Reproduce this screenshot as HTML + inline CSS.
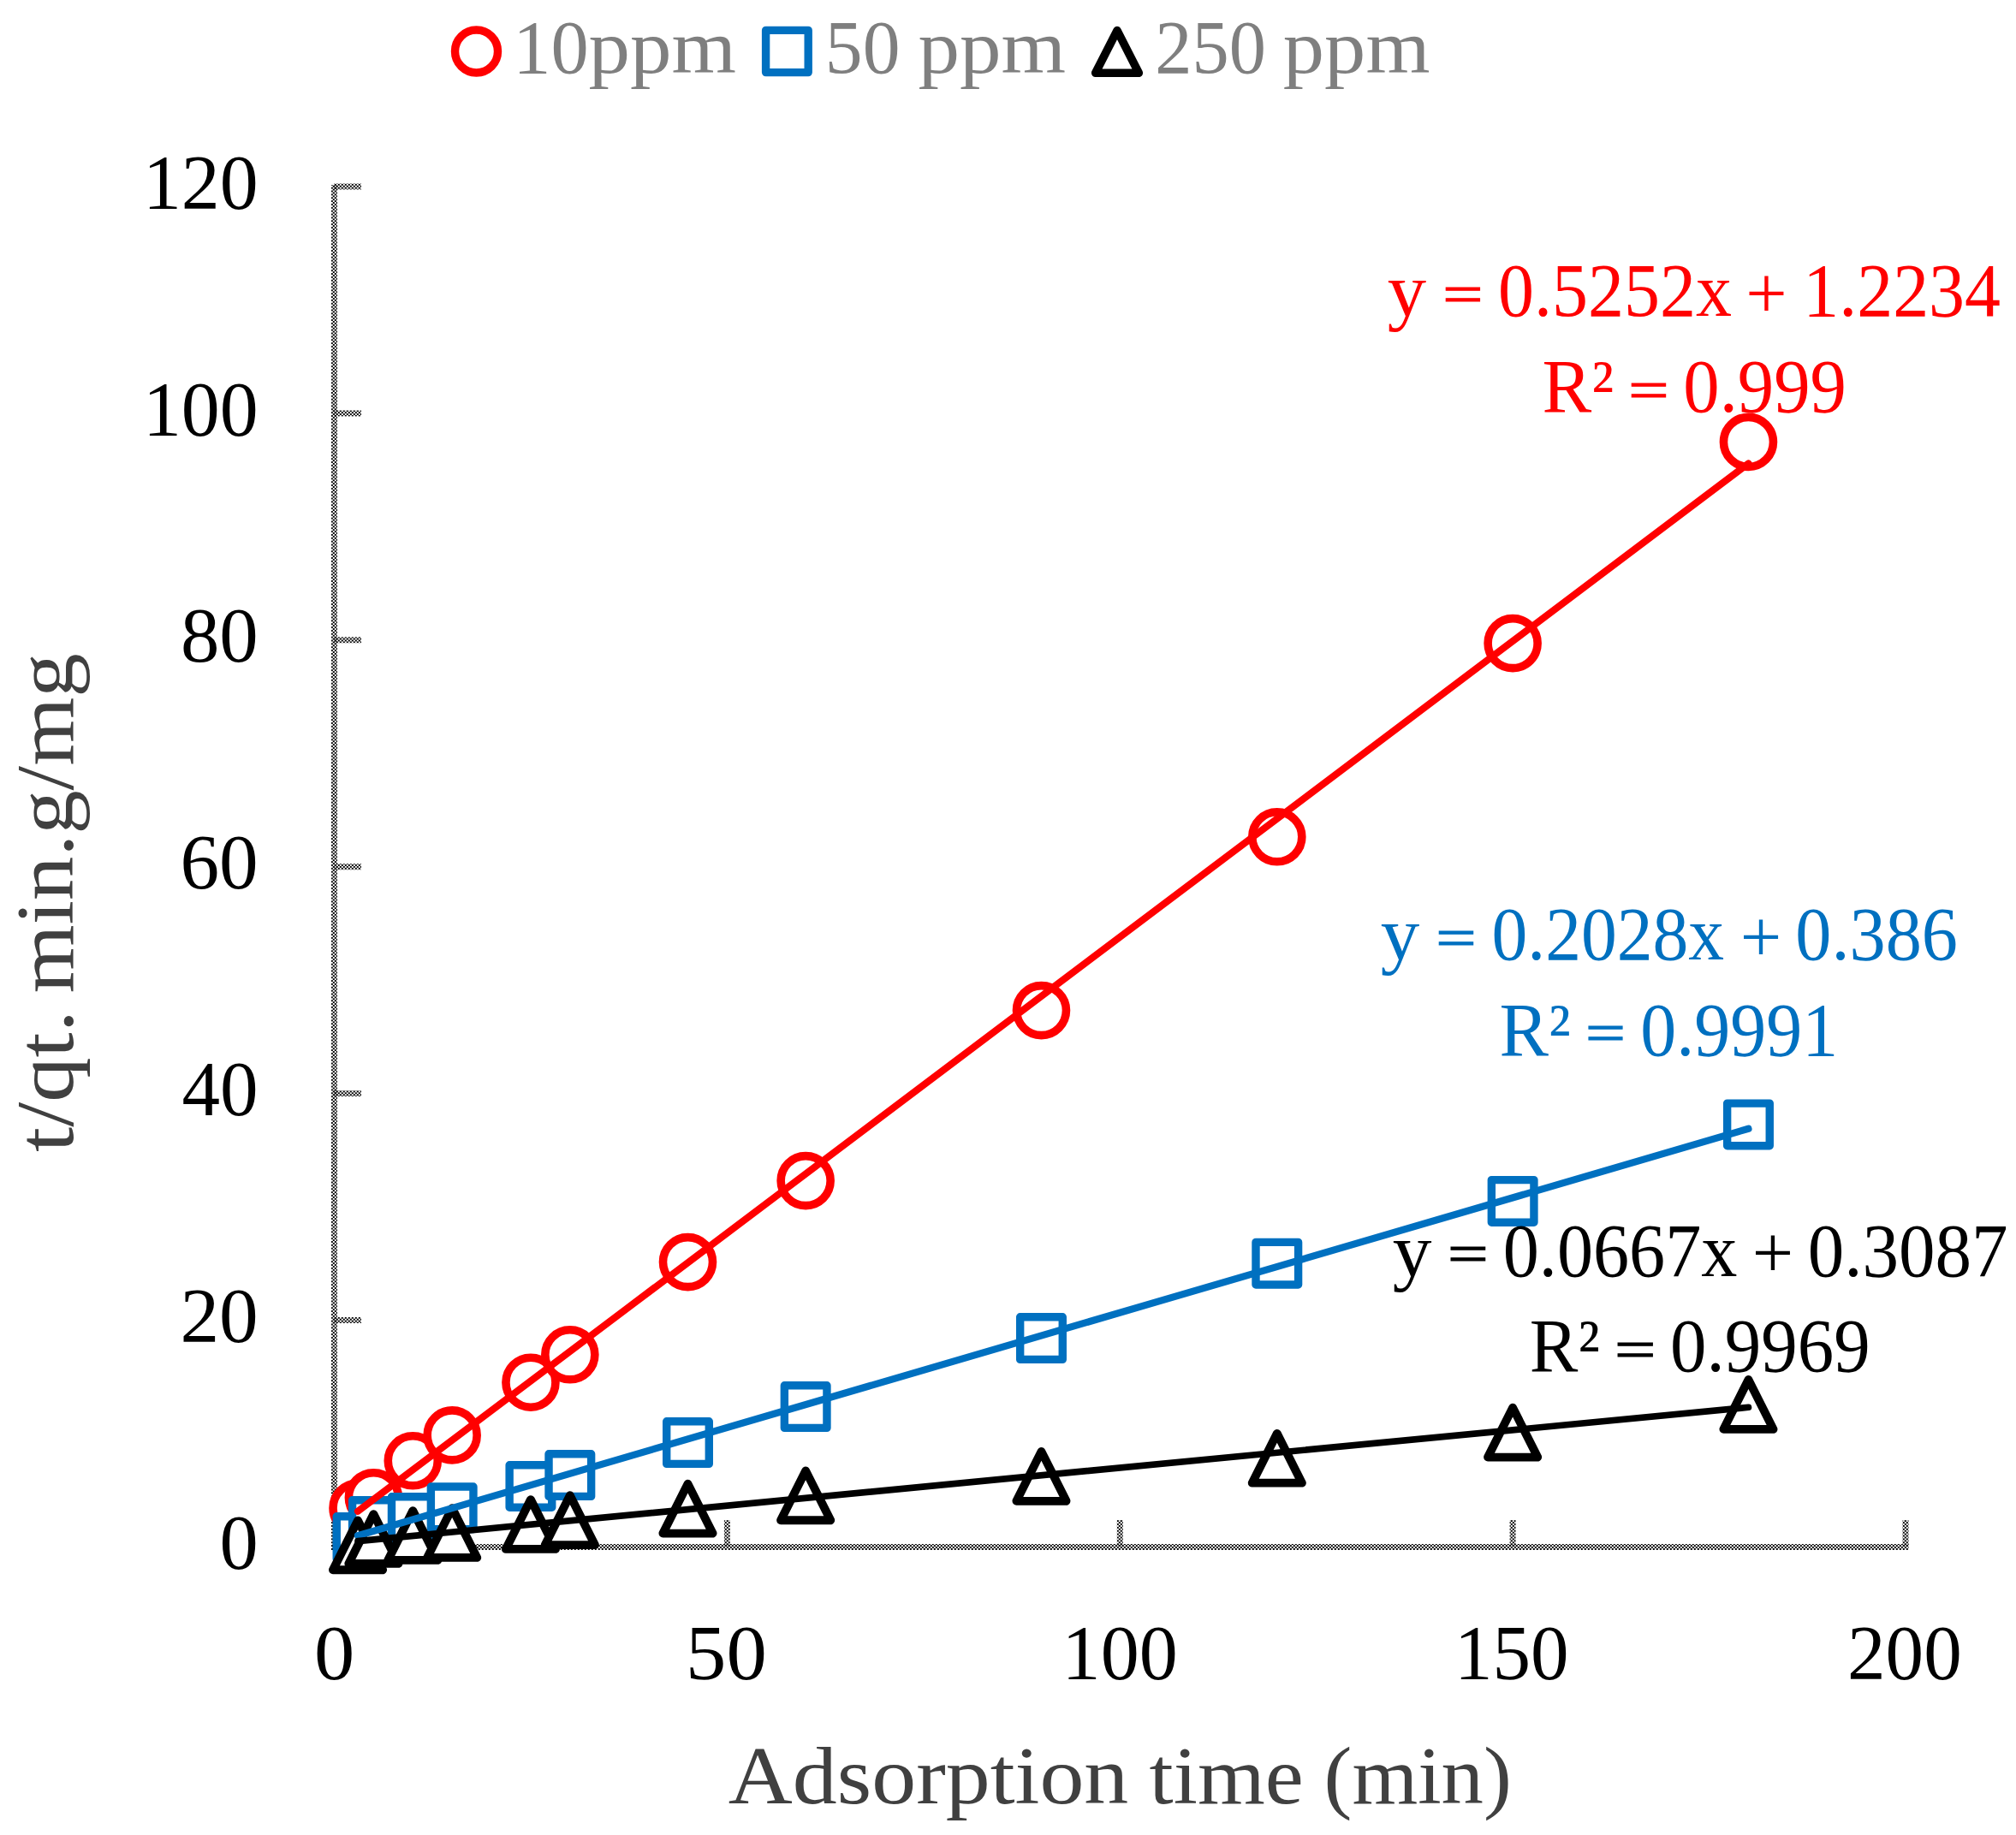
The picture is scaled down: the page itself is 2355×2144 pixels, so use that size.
<!DOCTYPE html>
<html><head><meta charset="utf-8"><title>Pseudo-second-order kinetics</title>
<style>
html,body{margin:0;padding:0;background:#fff;}
svg{display:block;}
text{font-family:"Liberation Serif","DejaVu Serif",serif;}
</style></head>
<body>
<svg width="2355" height="2144" viewBox="0 0 2355 2144">
<defs>
<pattern id="dz" patternUnits="userSpaceOnUse" x="0.8" y="0.6" width="4" height="3.86">
<rect x="0" y="0" width="2" height="1.93" fill="#000"/>
<rect x="2" y="1.93" width="2" height="1.93" fill="#000"/>
</pattern>
</defs>
<rect width="2355" height="2144" fill="#fff"/>
<g fill="url(#dz)">
<rect x="387" y="216" width="7" height="1595"/>
<rect x="387" y="1804" width="1842.5" height="7"/>
<rect x="390" y="1539.0" width="32" height="7"/>
<rect x="390" y="1274.1" width="32" height="7"/>
<rect x="390" y="1009.2" width="32" height="7"/>
<rect x="390" y="744.3" width="32" height="7"/>
<rect x="390" y="479.4" width="32" height="7"/>
<rect x="390" y="214.5" width="32" height="7"/>
<rect x="845.9" y="1776" width="7" height="31"/>
<rect x="1304.8" y="1776" width="7" height="31"/>
<rect x="1763.6" y="1776" width="7" height="31"/>
<rect x="2222.5" y="1776" width="7" height="31"/>
</g>
<text font-size="91.00" fill="#000000"><tspan x="256.51" y="1833.00" textLength="45.18" lengthAdjust="spacingAndGlyphs">0</tspan></text>
<text font-size="91.00" fill="#000000"><tspan x="210.42" y="1568.10" textLength="91.30" lengthAdjust="spacingAndGlyphs">20</tspan></text>
<text font-size="91.00" fill="#000000"><tspan x="212.52" y="1303.20" textLength="89.12" lengthAdjust="spacingAndGlyphs">40</tspan></text>
<text font-size="91.00" fill="#000000"><tspan x="210.42" y="1038.30" textLength="91.30" lengthAdjust="spacingAndGlyphs">60</tspan></text>
<text font-size="91.00" fill="#000000"><tspan x="210.89" y="773.40" textLength="90.81" lengthAdjust="spacingAndGlyphs">80</tspan></text>
<text font-size="91.00" fill="#000000"><tspan x="166.94" y="508.50" textLength="134.73" lengthAdjust="spacingAndGlyphs">100</tspan></text>
<text font-size="91.00" fill="#000000"><tspan x="166.94" y="243.60" textLength="134.73" lengthAdjust="spacingAndGlyphs">120</tspan></text>
<text font-size="91.00" fill="#000000"><tspan x="366.95" y="1961.50" textLength="47.29" lengthAdjust="spacingAndGlyphs">0</tspan></text>
<text font-size="91.00" fill="#000000"><tspan x="801.05" y="1961.50" textLength="94.70" lengthAdjust="spacingAndGlyphs">50</tspan></text>
<text font-size="91.00" fill="#000000"><tspan x="1240.62" y="1961.50" textLength="135.16" lengthAdjust="spacingAndGlyphs">100</tspan></text>
<text font-size="91.00" fill="#000000"><tspan x="1698.90" y="1961.50" textLength="133.64" lengthAdjust="spacingAndGlyphs">150</tspan></text>
<text font-size="91.00" fill="#000000"><tspan x="2158.01" y="1961.50" textLength="133.73" lengthAdjust="spacingAndGlyphs">200</tspan></text>
<text font-size="96.00" fill="#404040"><tspan x="850.86" y="2107.30" textLength="467.40" lengthAdjust="spacingAndGlyphs">Adsorption</tspan> <tspan x="1342.59" y="2107.30" textLength="180.15" lengthAdjust="spacingAndGlyphs">time</tspan> <tspan x="1546.50" y="2107.30" textLength="219.36" lengthAdjust="spacingAndGlyphs">(min)</tspan></text>
<text font-size="96.00" fill="#404040" transform="translate(85,0) rotate(-90)"><tspan x="-1345.95" y="0.00" textLength="165.76" lengthAdjust="spacingAndGlyphs">t/qt.</tspan> <tspan x="-1160.46" y="0.00" textLength="397.00" lengthAdjust="spacingAndGlyphs">min.g/mg</tspan></text>
<text font-size="88.00" fill="#7F7F7F"><tspan x="599.36" y="85.30" textLength="88.46" lengthAdjust="spacingAndGlyphs">10</tspan><tspan x="687.54" y="85.30" textLength="172.55" lengthAdjust="spacingAndGlyphs">ppm</tspan></text>
<text font-size="88.00" fill="#7F7F7F"><tspan x="963.81" y="85.30" textLength="87.68" lengthAdjust="spacingAndGlyphs">50</tspan> <tspan x="1072.54" y="85.30" textLength="172.60" lengthAdjust="spacingAndGlyphs">ppm</tspan></text>
<text font-size="88.00" fill="#7F7F7F"><tspan x="1349.33" y="85.30" textLength="129.51" lengthAdjust="spacingAndGlyphs">250</tspan> <tspan x="1498.85" y="85.30" textLength="171.63" lengthAdjust="spacingAndGlyphs">ppm</tspan></text>
<circle cx="556.5" cy="60" r="25" fill="none" stroke="#FF0000" stroke-width="9.4"/>
<rect x="894.6" y="35.4" width="49.6" height="49.2" fill="none" stroke="#0070C0" stroke-width="9.4" stroke-linejoin="round"/>
<path d="M1305 35.6 L1330.3 85.3 L1279.7 85.3 Z" fill="none" stroke="#000000" stroke-width="9.6" stroke-linejoin="round"/>
<circle cx="418.03" cy="1762.00" r="29" fill="#fff" stroke="#FF0000" stroke-width="9.6"/>
<circle cx="436.39" cy="1749.70" r="29" fill="#fff" stroke="#FF0000" stroke-width="9.6"/>
<circle cx="482.27" cy="1706.80" r="29" fill="#fff" stroke="#FF0000" stroke-width="9.6"/>
<circle cx="528.16" cy="1676.90" r="29" fill="#fff" stroke="#FF0000" stroke-width="9.6"/>
<circle cx="619.94" cy="1615.20" r="29" fill="#fff" stroke="#FF0000" stroke-width="9.6"/>
<circle cx="665.83" cy="1582.80" r="29" fill="#fff" stroke="#FF0000" stroke-width="9.6"/>
<circle cx="803.49" cy="1474.60" r="29" fill="#fff" stroke="#FF0000" stroke-width="9.6"/>
<circle cx="941.15" cy="1379.60" r="29" fill="#fff" stroke="#FF0000" stroke-width="9.6"/>
<circle cx="1216.47" cy="1180.60" r="29" fill="#fff" stroke="#FF0000" stroke-width="9.6"/>
<circle cx="1491.80" cy="977.80" r="29" fill="#fff" stroke="#FF0000" stroke-width="9.6"/>
<circle cx="1767.12" cy="751.60" r="29" fill="#fff" stroke="#FF0000" stroke-width="9.6"/>
<circle cx="2042.45" cy="516.40" r="29" fill="#fff" stroke="#FF0000" stroke-width="9.6"/>
<rect x="393.23" y="1771.80" width="49.6" height="49.6" fill="#fff" stroke="#0070C0" stroke-width="9.4" stroke-linejoin="round"/>
<rect x="411.59" y="1752.70" width="49.6" height="49.6" fill="#fff" stroke="#0070C0" stroke-width="9.4" stroke-linejoin="round"/>
<rect x="457.47" y="1748.70" width="49.6" height="49.6" fill="#fff" stroke="#0070C0" stroke-width="9.4" stroke-linejoin="round"/>
<rect x="503.36" y="1737.00" width="49.6" height="49.6" fill="#fff" stroke="#0070C0" stroke-width="9.4" stroke-linejoin="round"/>
<rect x="595.14" y="1711.70" width="49.6" height="49.6" fill="#fff" stroke="#0070C0" stroke-width="9.4" stroke-linejoin="round"/>
<rect x="641.03" y="1698.80" width="49.6" height="49.6" fill="#fff" stroke="#0070C0" stroke-width="9.4" stroke-linejoin="round"/>
<rect x="778.69" y="1660.80" width="49.6" height="49.6" fill="#fff" stroke="#0070C0" stroke-width="9.4" stroke-linejoin="round"/>
<rect x="916.35" y="1618.80" width="49.6" height="49.6" fill="#fff" stroke="#0070C0" stroke-width="9.4" stroke-linejoin="round"/>
<rect x="1191.67" y="1538.80" width="49.6" height="49.6" fill="#fff" stroke="#0070C0" stroke-width="9.4" stroke-linejoin="round"/>
<rect x="1467.00" y="1451.40" width="49.6" height="49.6" fill="#fff" stroke="#0070C0" stroke-width="9.4" stroke-linejoin="round"/>
<rect x="1742.33" y="1378.60" width="49.6" height="49.6" fill="#fff" stroke="#0070C0" stroke-width="9.4" stroke-linejoin="round"/>
<rect x="2017.65" y="1289.10" width="49.6" height="49.6" fill="#fff" stroke="#0070C0" stroke-width="9.4" stroke-linejoin="round"/>
<path d="M418.03 1776.35 L447.13 1834.25 L388.93 1834.25 Z" fill="#fff" stroke="#000000" stroke-width="9.8" stroke-linejoin="round"/>
<path d="M436.39 1769.05 L465.49 1826.95 L407.29 1826.95 Z" fill="#fff" stroke="#000000" stroke-width="9.8" stroke-linejoin="round"/>
<path d="M482.27 1765.05 L511.38 1822.95 L453.17 1822.95 Z" fill="#fff" stroke="#000000" stroke-width="9.8" stroke-linejoin="round"/>
<path d="M528.16 1762.05 L557.26 1819.95 L499.06 1819.95 Z" fill="#fff" stroke="#000000" stroke-width="9.8" stroke-linejoin="round"/>
<path d="M619.94 1752.05 L649.04 1809.95 L590.84 1809.95 Z" fill="#fff" stroke="#000000" stroke-width="9.8" stroke-linejoin="round"/>
<path d="M665.83 1747.15 L694.93 1805.05 L636.73 1805.05 Z" fill="#fff" stroke="#000000" stroke-width="9.8" stroke-linejoin="round"/>
<path d="M803.49 1733.65 L832.59 1791.55 L774.39 1791.55 Z" fill="#fff" stroke="#000000" stroke-width="9.8" stroke-linejoin="round"/>
<path d="M941.15 1718.35 L970.25 1776.25 L912.05 1776.25 Z" fill="#fff" stroke="#000000" stroke-width="9.8" stroke-linejoin="round"/>
<path d="M1216.47 1695.90 L1245.57 1753.80 L1187.38 1753.80 Z" fill="#fff" stroke="#000000" stroke-width="9.8" stroke-linejoin="round"/>
<path d="M1491.80 1674.80 L1520.90 1732.70 L1462.70 1732.70 Z" fill="#fff" stroke="#000000" stroke-width="9.8" stroke-linejoin="round"/>
<path d="M1767.12 1644.65 L1796.22 1702.55 L1738.03 1702.55 Z" fill="#fff" stroke="#000000" stroke-width="9.8" stroke-linejoin="round"/>
<path d="M2042.45 1611.95 L2071.55 1669.85 L2013.35 1669.85 Z" fill="#fff" stroke="#000000" stroke-width="9.8" stroke-linejoin="round"/>
<line x1="418.03" y1="1765.73" x2="2042.45" y2="541.57" stroke="#FF0000" stroke-width="8.2" stroke-linecap="round"/>
<line x1="418.03" y1="1794.23" x2="2042.45" y2="1318.79" stroke="#0070C0" stroke-width="8.2" stroke-linecap="round"/>
<line x1="418.03" y1="1800.66" x2="2042.45" y2="1644.29" stroke="#000000" stroke-width="7.7" stroke-linecap="round"/>
<text font-size="88.20" fill="#FF0000"><tspan x="1620.87" y="369.35" textLength="45.36" lengthAdjust="spacingAndGlyphs">y</tspan> <tspan x="1685.37" y="364.80" textLength="47.18" lengthAdjust="spacingAndGlyphs" font-size="63.60" stroke="#FF0000" stroke-width="1.1">=</tspan> <tspan x="1750.05" y="369.35" textLength="272.90" lengthAdjust="spacingAndGlyphs">0.5252x</tspan> <tspan x="2039.21" y="371.65" textLength="48.39" lengthAdjust="spacingAndGlyphs" font-size="86.02">+</tspan> <tspan x="2106.36" y="369.35" textLength="230.59" lengthAdjust="spacingAndGlyphs">1.2234</tspan></text>
<text font-size="88.20" fill="#FF0000"><tspan x="1801.52" y="481.10" textLength="83.67" lengthAdjust="spacingAndGlyphs">R²</tspan> <tspan x="1902.26" y="476.55" textLength="47.30" lengthAdjust="spacingAndGlyphs" font-size="63.60" stroke="#FF0000" stroke-width="1.1">=</tspan> <tspan x="1966.32" y="481.10" textLength="190.67" lengthAdjust="spacingAndGlyphs">0.999</tspan></text>
<text font-size="88.20" fill="#0070C0"><tspan x="1612.76" y="1121.20" textLength="45.46" lengthAdjust="spacingAndGlyphs">y</tspan> <tspan x="1677.20" y="1116.65" textLength="47.36" lengthAdjust="spacingAndGlyphs" font-size="63.60" stroke="#0070C0" stroke-width="1.1">=</tspan> <tspan x="1742.47" y="1121.20" textLength="271.68" lengthAdjust="spacingAndGlyphs">0.2028x</tspan> <tspan x="2032.70" y="1123.50" textLength="48.51" lengthAdjust="spacingAndGlyphs" font-size="86.02">+</tspan> <tspan x="2097.24" y="1121.20" textLength="189.79" lengthAdjust="spacingAndGlyphs">0.386</tspan></text>
<text font-size="88.20" fill="#0070C0"><tspan x="1751.53" y="1232.95" textLength="83.24" lengthAdjust="spacingAndGlyphs">R²</tspan> <tspan x="1852.09" y="1228.40" textLength="46.94" lengthAdjust="spacingAndGlyphs" font-size="63.60" stroke="#0070C0" stroke-width="1.1">=</tspan> <tspan x="1916.25" y="1232.95" textLength="230.99" lengthAdjust="spacingAndGlyphs">0.9991</tspan></text>
<text font-size="88.20" fill="#000000"><tspan x="1626.76" y="1490.60" textLength="45.67" lengthAdjust="spacingAndGlyphs">y</tspan> <tspan x="1691.12" y="1486.05" textLength="47.67" lengthAdjust="spacingAndGlyphs" font-size="63.60" stroke="#000000" stroke-width="1.1">=</tspan> <tspan x="1755.74" y="1490.60" textLength="273.61" lengthAdjust="spacingAndGlyphs">0.0667x</tspan> <tspan x="2046.81" y="1492.90" textLength="48.39" lengthAdjust="spacingAndGlyphs" font-size="86.02">+</tspan> <tspan x="2111.71" y="1490.60" textLength="233.93" lengthAdjust="spacingAndGlyphs">0.3087</tspan></text>
<text font-size="88.20" fill="#000000"><tspan x="1786.87" y="1602.35" textLength="81.98" lengthAdjust="spacingAndGlyphs">R²</tspan> <tspan x="1886.06" y="1597.80" textLength="48.39" lengthAdjust="spacingAndGlyphs" font-size="63.60" stroke="#000000" stroke-width="1.1">=</tspan> <tspan x="1951.11" y="1602.35" textLength="233.58" lengthAdjust="spacingAndGlyphs">0.9969</tspan></text>
</svg>
</body></html>
